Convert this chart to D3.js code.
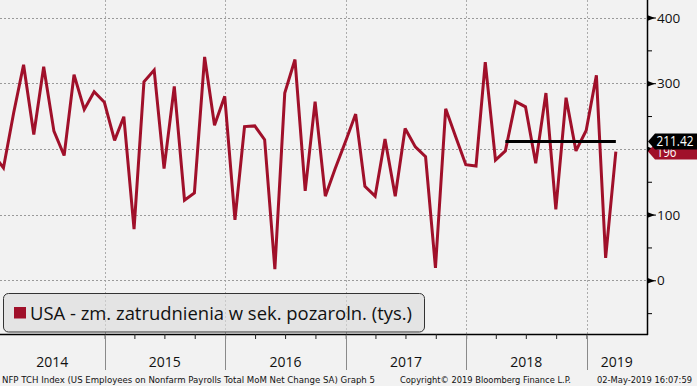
<!DOCTYPE html>
<html>
<head>
<meta charset="utf-8">
<script src="https://cdn.jsdelivr.net/npm/d3@7"></script>
<style>
html,body{margin:0;padding:0;background:#f2f2f2;}
svg{display:block;}
</style>
</head>
<body>
<svg id="chart" width="697" height="386"></svg>
<script>
// ---- data ----
const startMonth = "2014-01";
const values2014 = [190, 171, 255, 328, 222, 325, 227, 190, 313, 260, 287, 271];
const values2015 = [213, 249, 78, 302, 320, 170, 295, 122, 133, 340, 236, 280];
const values2016 = [92, 234, 235, 214, 17, 285, 336, 136, 272, 128, 170, 211];
const values2017 = [253, 143, 128, 215, 128, 231, 203, 188, 19, 261, 219, 176];
const values2018 = [174, 332, 183, 197, 272, 264, 178, 285, 108, 278, 197, 228];
const values2019 = [312, 34, 196];
const avgValue = 211.42;
const avgStart = "2018-04";
const avgEnd = "2019-03";
const lastValue = 196;
const yMajorTicks = [0, 100, 200, 300, 400];
const yMinorTicks = [-50, 50, 150, 250, 350];
const yearLabels = ["2014", "2015", "2016", "2017", "2018", "2019"];
const legendLabel = "USA - zm. zatrudnienia w sek. pozaroln. (tys.)";
const footerLeft = "NFP TCH Index (US Employees on Nonfarm Payrolls Total MoM Net Change SA) Graph 5";
const footerMid = "Copyright\u00A9 2019 Bloomberg Finance L.P.";
const footerRight = "02-May-2019 16:07:59";

const allValues = [].concat(values2014, values2015, values2016, values2017, values2018, values2019);
const parseM = d3.timeParse("%Y-%m");
const monthEnd = m => d3.timeDay.offset(d3.timeMonth.offset(m, 1), -1);
const data = allValues.map((v, i) => ({ date: monthEnd(d3.timeMonth.offset(parseM(startMonth), i)), value: v }));

// ---- layout ----
const W = 697, H = 386;
const plotRight = 647, plotBottom = 335;
const RED = "#a0102a";

const svg = d3.select("#chart");
svg.append("rect").attr("width", W).attr("height", H).attr("fill", "#f2f2f2");

const x = d3.scaleTime()
  .domain([new Date(2015, 0, 1), new Date(2019, 0, 1)])
  .range([104.7, 586.5]);
const y = d3.scaleLinear().domain([0, 400]).range([280.3, 17.5]);

const xStart = x.invert(0), xEnd = x.invert(plotRight);
const yearStarts = d3.timeYear.range(d3.timeYear.ceil(xStart), xEnd);

svg.append("clipPath").attr("id", "clip").append("rect")
  .attr("x", 0).attr("y", 0).attr("width", plotRight).attr("height", plotBottom);

// legend box background
const lgBox = svg.append("rect").attr("x", 3.5).attr("y", 293.5).attr("width", 421).attr("height", 38.5)
  .attr("rx", 5).attr("ry", 5).attr("fill", "#e6e6e6");

// gridlines
svg.append("g").selectAll("line").data(yMajorTicks).join("line")
  .attr("x1", 0).attr("x2", plotRight)
  .attr("y1", d => Math.round(y(d)) + 0.5).attr("y2", d => Math.round(y(d)) + 0.5)
  .attr("stroke", "#9a9a9a").attr("stroke-width", 1).attr("stroke-dasharray", "2,2");
svg.append("g").selectAll("line").data(yearStarts).join("line")
  .attr("x1", d => Math.round(x(d)) + 0.5).attr("x2", d => Math.round(x(d)) + 0.5)
  .attr("y1", 0).attr("y2", plotBottom)
  .attr("stroke", "#a0a0a0").attr("stroke-width", 1).attr("stroke-dasharray", "2,2").attr("opacity", 0.85);

// legend border and content
const lg = svg.append("g");
lg.append("rect").attr("x", 3.5).attr("y", 293.5).attr("width", 421).attr("height", 38.5)
  .attr("rx", 5).attr("ry", 5).attr("fill", "rgba(226,226,226,0.55)").attr("stroke", "#333").attr("stroke-width", 1);
lg.append("rect").attr("x", 14).attr("y", 307).attr("width", 12).attr("height", 11.5).attr("fill", RED);
lg.append("text").attr("x", 30).attr("y", 319.5)
  .attr("font-family", "'Open Sans', 'Noto Sans', sans-serif").attr("font-size", 17.5)
  .attr("fill", "#111").attr("textLength", 382).attr("lengthAdjust", "spacingAndGlyphs")
  .text(legendLabel);

// series line
const line = d3.line().x(d => x(d.date)).y(d => y(d.value));
svg.append("path").datum(data).attr("clip-path", "url(#clip)")
  .attr("d", line).attr("fill", "none").attr("stroke", RED)
  .attr("stroke-width", 3).attr("stroke-linejoin", "miter").attr("stroke-miterlimit", 3);

// moving-average line
const avgData = [{ date: monthEnd(parseM(avgStart)), value: avgValue }, { date: monthEnd(parseM(avgEnd)), value: avgValue }];
svg.append("path").datum(avgData).attr("d", line)
  .attr("fill", "none").attr("stroke", "#000").attr("stroke-width", 3);

// axis frame
svg.append("line").attr("x1", plotRight + 0.5).attr("x2", plotRight + 0.5).attr("y1", 0).attr("y2", plotBottom)
  .attr("stroke", "#000").attr("stroke-width", 1.5);
svg.append("line").attr("x1", 0).attr("x2", plotRight + 1).attr("y1", plotBottom - 0.5).attr("y2", plotBottom - 0.5)
  .attr("stroke", "#000").attr("stroke-width", 1.5);

// right y axis
const yAxis = svg.append("g").attr("transform", `translate(${plotRight},0)`)
  .call(d3.axisRight(y).tickValues(yMajorTicks).tickSize(9).tickPadding(1).tickFormat(d3.format("d")));
yAxis.select(".domain").remove();
yAxis.selectAll(".tick line").remove();
yAxis.selectAll(".tick").append("path").attr("d", "M0,-3L8,0L0,3Z").attr("fill", "#000");
yAxis.selectAll(".tick").append("line").attr("x1", 0).attr("x2", 9).attr("stroke", "#000");
yAxis.selectAll(".tick text").attr("font-family", "'Open Sans', 'Noto Sans', sans-serif")
  .attr("font-size", 13.5).attr("fill", "#111").attr("dy", "0.34em");

const yMinor = svg.append("g").attr("transform", `translate(${plotRight},0)`)
  .call(d3.axisRight(y).tickValues(yMinorTicks).tickSize(5).tickFormat(""));
yMinor.select(".domain").remove();
yMinor.selectAll(".tick line").attr("stroke", "#000");

// x axis quarter ticks
const xAxis = svg.append("g").attr("transform", `translate(0,${plotBottom - 1})`)
  .call(d3.axisBottom(x).ticks(d3.timeMonth.every(3)).tickSize(5).tickFormat(""));
xAxis.select(".domain").remove();
xAxis.selectAll(".tick line").attr("stroke", "#222");
xAxis.selectAll(".tick").filter(d => d < xStart || d > xEnd).remove();

// year separators
svg.append("g").selectAll("line").data(yearStarts).join("line")
  .attr("x1", d => Math.round(x(d)) + 0.5).attr("x2", d => Math.round(x(d)) + 0.5)
  .attr("y1", plotBottom).attr("y2", 370)
  .attr("stroke", "#8a8a8a").attr("stroke-width", 1);

// year labels: centred in visible span
svg.append("g").selectAll("text").data(yearLabels).join("text")
  .attr("x", d => {
    const a = Math.max(0, x(new Date(+d, 0, 1)));
    const b = Math.min(plotRight, x(new Date(+d + 1, 0, 1)));
    return (a + b) / 2;
  })
  .attr("y", 367).attr("text-anchor", "middle")
  .attr("font-family", "'Open Sans', 'Noto Sans', sans-serif").attr("font-size", 14)
  .attr("fill", "#111").text(d => d);

// value labels on right
function tag(value, fill, txt, len) {
  const cy = y(value);
  const g = svg.append("g");
  g.append("path")
    .attr("d", `M${plotRight + 1},${cy} L${plotRight + 8},${cy - 8} L${W},${cy - 8} L${W},${cy + 8} L${plotRight + 8},${cy + 8} Z`)
    .attr("fill", fill);
  g.append("text").attr("x", 656.5).attr("y", cy + 5)
    .attr("font-family", "'Open Sans', 'Noto Sans', sans-serif").attr("font-size", 14.5)
    .attr("fill", "#fff").attr("textLength", len).attr("lengthAdjust", "spacingAndGlyphs").text(txt);
}
tag(lastValue, RED, String(lastValue), 20);
tag(avgValue, "#000", avgValue.toFixed(2), 37);

// footer
const ff = "'DejaVu Sans', Verdana, sans-serif";
svg.append("text").attr("x", 2).attr("y", 383).attr("font-family", ff).attr("font-size", 9)
  .attr("fill", "#111").attr("textLength", 373).attr("lengthAdjust", "spacingAndGlyphs").text(footerLeft);
svg.append("text").attr("x", 400).attr("y", 383).attr("font-family", ff).attr("font-size", 9)
  .attr("fill", "#111").attr("textLength", 171).attr("lengthAdjust", "spacingAndGlyphs").text(footerMid);
svg.append("text").attr("x", 597).attr("y", 383).attr("font-family", ff).attr("font-size", 9)
  .attr("fill", "#111").attr("textLength", 95).attr("lengthAdjust", "spacingAndGlyphs").text(footerRight);
</script>
</body>
</html>
